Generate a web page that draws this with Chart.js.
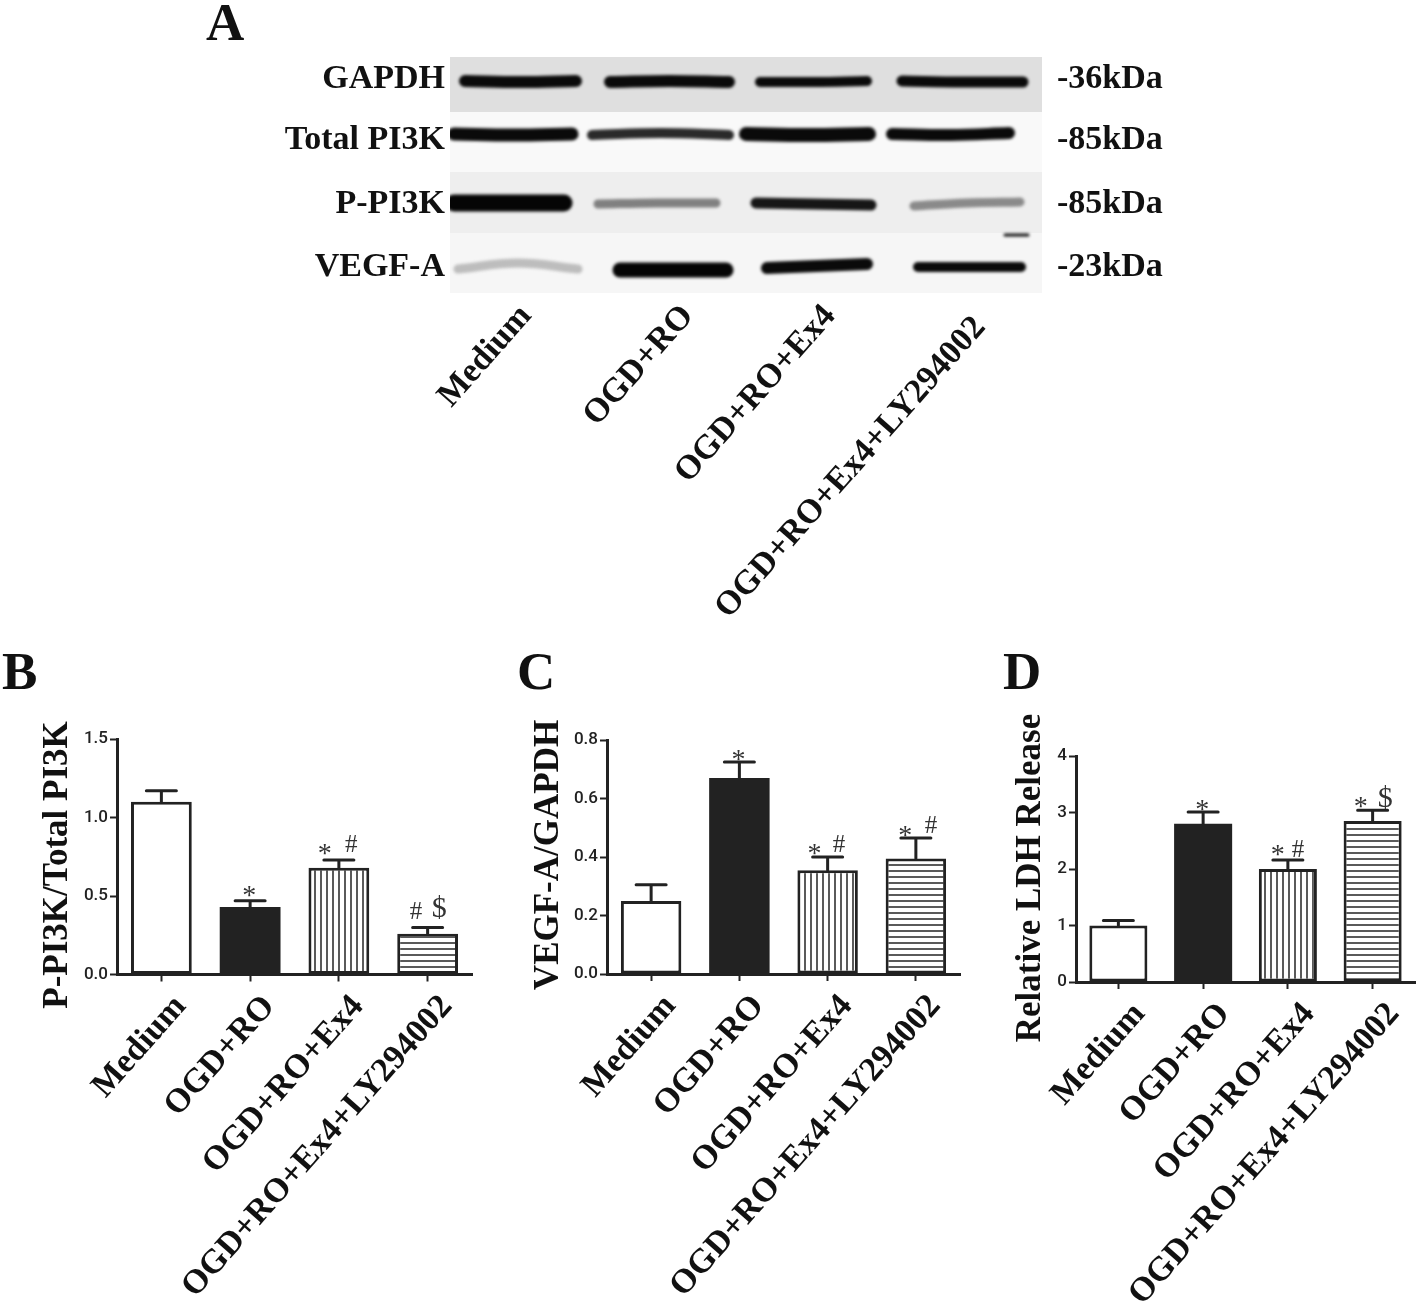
<!DOCTYPE html>
<html>
<head>
<meta charset="utf-8">
<title>PI3K blot and bar panels</title>
<script src="https://cdn.jsdelivr.net/npm/chart.js@4"></script>
<style>
  html, body { margin: 0; background: #fff; }
  #page { position: relative; width: 1418px; height: 1316px; overflow: hidden; }
  #page canvas { position: absolute; }
  .letter { position: absolute; font: bold 53px "Liberation Serif", serif; color: #111; line-height: 1; }
</style>
</head>
<body>
<div id="page">
  <div class="letter" style="left:206px;top:-4px">A</div>
  <div class="letter" style="left:2px;top:645px">B</div>
  <div class="letter" style="left:517px;top:645px">C</div>
  <div class="letter" style="left:1003px;top:645px">D</div>
  <canvas id="blot" width="1418" height="640" style="left:0;top:0"></canvas>
  <canvas id="panel-b" width="490" height="616" style="left:0;top:700px"></canvas>
  <canvas id="panel-c" width="490" height="616" style="left:490px;top:700px"></canvas>
  <canvas id="panel-d" width="438" height="616" style="left:980px;top:700px"></canvas>
</div>
<script>
const categories = ["Medium", "OGD+RO", "OGD+RO+Ex4", "OGD+RO+Ex4+LY294002"];

const pi3kValues = [1.10, 0.43, 0.68, 0.26];
const pi3kUpper  = [1.17, 0.47, 0.73, 0.30];
const vegfValues = [0.25, 0.67, 0.355, 0.395];
const vegfUpper  = [0.305, 0.725, 0.40, 0.465];
const ldhValues  = [1.0, 2.8, 2.0, 2.85];
const ldhUpper   = [1.09, 3.01, 2.16, 3.04];

// significance marks: [text, category position, value height]
const pi3kMarks = [["*", 0.99, 0.527], ["*", 1.84, 0.795], ["#", 2.14, 0.82], ["#", 2.87, 0.393], ["$", 3.13, 0.418]];
const vegfMarks = [["*", 0.99, 0.745], ["*", 1.85, 0.424], ["#", 2.13, 0.438], ["*", 2.88, 0.485], ["#", 3.17, 0.506]];
const ldhMarks  = [["*", 0.99, 3.115], ["*", 1.88, 2.32], ["#", 2.12, 2.336], ["*", 2.86, 3.168], ["$", 3.15, 3.24]];

// blot: one row per protein, one entry per lane
const blotProteins = ["GAPDH", "Total PI3K", "P-PI3K", "VEGF-A"];
const blotSizes    = ["-36kDa", "-85kDa", "-85kDa", "-23kDa"];
const bandFrom  = [[15, 160, 310, 452], [4, 142, 296, 442], [4, 148, 306, 464], [8, 170, 317, 468]];
const bandTo    = [[126, 279, 417, 573], [122, 279, 419, 559], [114, 266, 421, 570], [128, 276, 417, 571]];
const bandLeft  = [[24, 25, 25, 24], [77, 78, 77, 77], [146, 147, 146, 149], [212, 213, 211, 210]];
const bandMid   = [[25, 24, 25, 25], [78, 76, 78, 78], [146, 146, 147, 146], [206, 213, 209, 210]];
const bandRight = [[24, 25, 24, 25], [77, 78, 77, 76], [146, 146, 148, 145], [212, 213, 207, 210]];
const smudgeFrom = [555], smudgeTo = [578], smudgeAt = [178];

const BLOT_ROW_EDGES = [0, 55, 115, 176, 236];
const BLOT_ROW_SHADES = ["#dfdfdf", "#f9f9f9", "#eeeeee", "#f6f6f6"];
const BAND_WIDTHS = [[12, 12, 10, 11], [13, 10, 14, 12], [17, 9, 11, 9], [9, 15, 12, 10]];
const BAND_SHADES = [
  ["#0a0a0a", "#0a0a0a", "#0a0a0a", "#0a0a0a"],
  ["#0a0a0a", "#2a2a2a", "#0a0a0a", "#0a0a0a"],
  ["#050505", "#808080", "#161616", "#8a8a8a"],
  ["#bdbdbd", "#050505", "#0a0a0a", "#0a0a0a"],
];
const INK = "#222";

function stripes(vertical) {
  const tile = document.createElement("canvas");
  tile.width = tile.height = 6;
  const g = tile.getContext("2d");
  g.fillStyle = "#fff";
  g.fillRect(0, 0, 6, 6);
  g.fillStyle = "#5a5a5a";
  if (vertical) g.fillRect(2, 0, 2, 6);
  else g.fillRect(0, 2, 6, 2);
  return g.createPattern(tile, "repeat");
}

const LANE_TICKS = [76, 238, 380];
const LAST_LANE_TICK = 530;
const ROW_TICKS = [22, 83, 147, 210];

const rowBackground = {
  id: "rowBackground",
  beforeDatasetsDraw(chart) {
    const { ctx, chartArea, scales } = chart;
    BLOT_ROW_SHADES.forEach((shade, i) => {
      const top = scales.y.getPixelForValue(BLOT_ROW_EDGES[i]);
      const bottom = scales.y.getPixelForValue(BLOT_ROW_EDGES[i + 1]);
      ctx.fillStyle = shade;
      ctx.fillRect(chartArea.left, top, chartArea.width, bottom - top);
    });
    ctx.save();
    ctx.filter = "blur(1.8px)";
  },
  afterDatasetsDraw(chart) {
    chart.ctx.restore();
  },
};

// the longest lane label sits lower than the axis ticks can place it
const lastLaneLabel = {
  id: "lastLaneLabel",
  afterDraw(chart) {
    const { ctx, chartArea, scales } = chart;
    ctx.save();
    ctx.translate(scales.x.getPixelForValue(LAST_LANE_TICK), chartArea.bottom + 29);
    ctx.rotate(-48.5 * Math.PI / 180);
    ctx.font = 'bold 34px "Liberation Serif"';
    ctx.fillStyle = "#111";
    ctx.textAlign = "right";
    ctx.textBaseline = "middle";
    ctx.fillText(categories[3], 0, 0);
    ctx.restore();
  },
};

const blotDatasets = [];
blotProteins.forEach((_, row) => {
  categories.forEach((_, lane) => {
    const from = bandFrom[row][lane], to = bandTo[row][lane];
    blotDatasets.push({
      data: [
        { x: from, y: bandLeft[row][lane] },
        { x: (from + to) / 2, y: bandMid[row][lane] },
        { x: to, y: bandRight[row][lane] },
      ],
      showLine: true,
      pointRadius: 0,
      tension: 0.4,
      borderColor: BAND_SHADES[row][lane],
      borderWidth: BAND_WIDTHS[row][lane],
      borderCapStyle: "round",
    });
  });
});
blotDatasets.push({
  data: [{ x: smudgeFrom[0], y: smudgeAt[0] }, { x: smudgeTo[0], y: smudgeAt[0] }],
  showLine: true,
  pointRadius: 0,
  borderColor: "#111",
  borderWidth: 3,
  borderCapStyle: "round",
});

function fixedTicks(values) {
  return s => { s.ticks = values.map(value => ({ value })); };
}

const blotFont = { family: "Liberation Serif", weight: "bold", size: 34 };

new Chart(document.getElementById("blot"), {
  type: "scatter",
  data: { datasets: blotDatasets },
  plugins: [rowBackground, lastLaneLabel],
  options: {
    responsive: false,
    animation: false,
    layout: { padding: { top: 57 } },
    plugins: { legend: { display: false }, tooltip: { enabled: false } },
    scales: {
      x: {
        type: "linear", min: 0, max: 592,
        grid: { display: false }, border: { display: false },
        afterBuildTicks: fixedTicks(LANE_TICKS),
        afterFit: s => { s.height = 347; s.paddingLeft = s.paddingRight = 0; },
        ticks: {
          color: "#111", font: blotFont, minRotation: 48.5, maxRotation: 48.5,
          padding: -4, autoSkip: false, callback: (v, i) => categories[i],
        },
      },
      y: {
        type: "linear", min: 0, max: 236, reverse: true,
        grid: { display: false }, border: { display: false },
        afterBuildTicks: fixedTicks(ROW_TICKS),
        afterFit: s => { s.width = 450; s.paddingTop = s.paddingBottom = 0; },
        ticks: { color: "#111", font: blotFont, padding: -3, autoSkip: false, callback: (v, i) => blotProteins[i] },
      },
      y2: {
        type: "linear", position: "right", min: 0, max: 236, reverse: true,
        grid: { display: false }, border: { display: false },
        afterBuildTicks: fixedTicks(ROW_TICKS),
        afterFit: s => { s.width = 376; s.paddingTop = s.paddingBottom = 0; },
        ticks: { color: "#111", font: blotFont, padding: 7, autoSkip: false, callback: (v, i) => blotSizes[i] },
      },
    },
  },
});

function panelPlugin(upper, marks, title, titleX, titleY) {
  return {
    id: "panel",
    afterDatasetsDraw(chart) {
      const { ctx, scales: { x, y } } = chart;
      ctx.save();
      ctx.strokeStyle = INK;
      ctx.lineWidth = 3;
      ctx.lineCap = "round";
      upper.forEach((top, i) => {
        const cx = x.getPixelForValue(i);
        const py = y.getPixelForValue(top);
        ctx.beginPath();
        ctx.moveTo(cx, y.getPixelForValue(chart.data.datasets[0].data[i]));
        ctx.lineTo(cx, py);
        ctx.moveTo(cx - 15, py);
        ctx.lineTo(cx + 15, py);
        ctx.stroke();
      });
      ctx.fillStyle = "#333";
      ctx.textAlign = "center";
      ctx.textBaseline = "middle";
      marks.forEach(([text, pos, value]) => {
        const size = text === "*" ? 28 : text === "#" ? 25 : 30;
        ctx.font = `${size}px "Liberation Serif"`;
        const nudge = text === "*" ? 5 : 0;
        ctx.fillText(text, x.getPixelForValue(pos), y.getPixelForValue(value) + nudge);
      });
      ctx.fillStyle = "#111";
      ctx.font = 'bold 35px "Liberation Serif"';
      ctx.translate(titleX, titleY);
      ctx.rotate(-Math.PI / 2);
      ctx.fillText(title, 0, 0);
      ctx.restore();
    },
  };
}

function buildPanel(id, values, upper, marks, cfg) {
  const bars = document.getElementById(id);
  new Chart(bars, {
    type: "bar",
    data: {
      labels: categories,
      datasets: [{
        data: values,
        backgroundColor: ["#fff", INK, stripes(true), stripes(false)],
        borderColor: INK,
        borderWidth: [3, 0, 3, 3],
        borderSkipped: false,
        categoryPercentage: 1,
        barPercentage: 0.685,
      }],
    },
    plugins: [panelPlugin(upper, marks, cfg.title, cfg.titleX, cfg.titleY)],
    options: {
      responsive: false,
      animation: false,
      layout: { padding: { top: cfg.top, right: cfg.right } },
      plugins: { legend: { display: false }, tooltip: { enabled: false } },
      scales: {
        x: {
          grid: { offset: false, drawOnChartArea: false, tickLength: 7, tickWidth: 2, tickColor: INK },
          border: { color: INK, width: 3 },
          afterFit: s => { s.height = cfg.xHeight; s.paddingLeft = s.paddingRight = 0; },
          ticks: {
            color: "#111", autoSkip: false, minRotation: 48.5, maxRotation: 48.5,
            font: { family: "Liberation Serif", weight: "bold", size: 34 },
            padding: 6, labelOffset: cfg.labelOffset,
          },
        },
        y: {
          min: 0, max: cfg.max,
          grid: { drawOnChartArea: false, tickLength: 7, tickWidth: 2, tickColor: INK },
          border: { color: INK, width: 3 },
          afterBuildTicks: fixedTicks(cfg.ticks),
          afterFit: s => { s.width = cfg.yWidth; s.paddingTop = s.paddingBottom = 0; },
          ticks: {
            color: "#222", padding: 2, autoSkip: false,
            font: { family: "Roboto, Liberation Sans", weight: 500, size: 17 },
            callback: v => v.toFixed(cfg.digits),
          },
        },
      },
    },
  });
}

buildPanel("panel-b", pi3kValues, pi3kUpper, pi3kMarks, {
  title: "P-PI3K/Total PI3K", titleX: 58, titleY: 165, labelOffset: 19,
  top: 39, right: 18, xHeight: 341.5, yWidth: 117, max: 1.5, ticks: [0, 0.5, 1, 1.5], digits: 1,
});
buildPanel("panel-c", vegfValues, vegfUpper, vegfMarks, {
  title: "VEGF-A/GAPDH", titleX: 59, titleY: 155, labelOffset: 19,
  top: 40, right: 20, xHeight: 342, yWidth: 117, max: 0.8, ticks: [0, 0.2, 0.4, 0.6, 0.8], digits: 1,
});
buildPanel("panel-d", ldhValues, ldhUpper, ldhMarks, {
  title: "Relative LDH Release", titleX: 51, titleY: 178, labelOffset: 21,
  top: 56, right: 3, xHeight: 334, yWidth: 96, max: 4, ticks: [0, 1, 2, 3, 4], digits: 0,
});
</script>
</body>
</html>
